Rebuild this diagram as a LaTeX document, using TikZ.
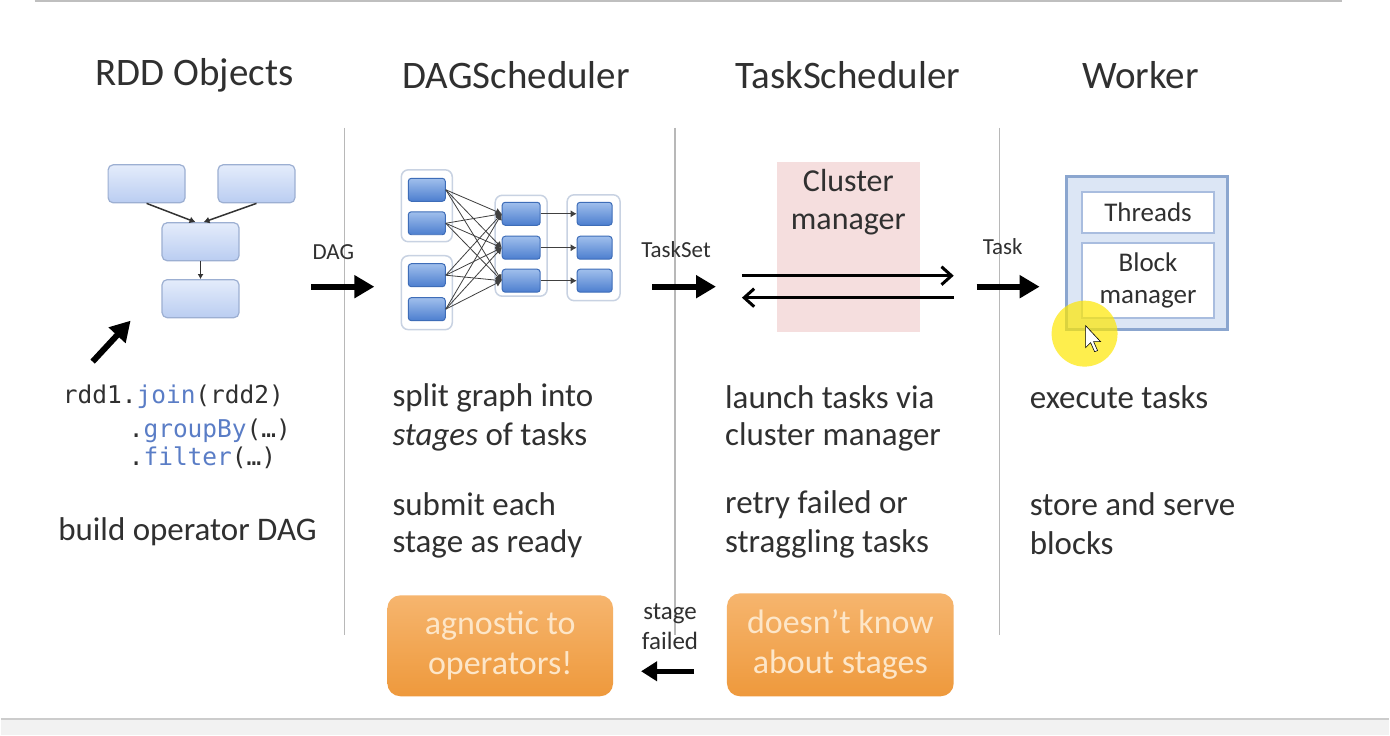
\documentclass[tikz,border=0pt]{standalone}
\usepackage{fontspec}
\setmainfont{Carlito}
\newfontfamily\codefont{DejaVu Sans Mono}
\usepackage{xcolor}
\usetikzlibrary{positioning,arrows.meta}

\definecolor{txt}{HTML}{303030}
\definecolor{sepgray}{HTML}{B8B8B8}
\definecolor{rddtop}{HTML}{E4ECFB}
\definecolor{rddbot}{HTML}{BACDF1}
\definecolor{rddline}{HTML}{9CAFD2}
\definecolor{tasktop}{HTML}{A0BFEC}
\definecolor{taskbot}{HTML}{4C7ECF}
\definecolor{taskline}{HTML}{3E6DB8}
\definecolor{stageline}{HTML}{C8D2E2}
\definecolor{cmpink}{HTML}{F5DEDE}
\definecolor{wkline}{HTML}{8BA6CF}
\definecolor{wkfill}{HTML}{DCE6F5}
\definecolor{wkinner}{HTML}{A9BDDF}
\definecolor{orgtop}{HTML}{F6B56E}
\definecolor{orgbot}{HTML}{EE993C}
\definecolor{orgtext}{HTML}{FDE6C8}
\definecolor{codeblue}{HTML}{5A7DC6}

\begin{document}
\begin{tikzpicture}[x=1pt,y=-1pt,
    head/.style={font=\fontsize{39}{44}\selectfont, text=txt},
    body/.style={font=\fontsize{33}{40}\selectfont, text=txt, anchor=west, inner sep=0pt},
    small/.style={font=\fontsize{23}{28}\selectfont, text=txt, inner sep=0pt},
    code/.style={font=\codefont\fontsize{24.5}{30}\selectfont, text=txt, anchor=west, inner sep=0pt},
    rddbox/.style={draw=rddline, line width=1.2pt, rounded corners=5pt,
                   top color=rddtop, bottom color=rddbot,
                   minimum width=77pt, minimum height=38pt},
    stagebox/.style={draw=stageline, line width=1.5pt, rounded corners=7pt, fill=white},
    taskbox/.style={draw=taskline, line width=1pt, rounded corners=3pt,
                    top color=tasktop, bottom color=taskbot,
                    minimum width=37pt, minimum height=23pt},
    fan/.style={draw=black!75, line width=0.8pt, -{Latex[length=6pt,width=7pt]}},
    bigarrow/.style={line width=6pt, -{Triangle[length=20pt,width=22pt]}},
    thinarrow/.style={line width=3pt, -{Straight Barb[length=10pt,width=18pt]}},
    sep/.style={draw=sepgray, line width=1.5pt},
    note/.style={rounded corners=13pt, top color=orgtop, bottom color=orgbot,
                 text=orgtext, align=center, font=\fontsize{34}{40}\selectfont},
    inner/.style={draw=wkinner, line width=2pt, fill=white, minimum width=133pt,
                  font=\fontsize{27}{32}\selectfont, text=txt, align=center}]

% page frame
\fill[white] (0,0) rectangle (1390,736);
\fill[black!5] (0,720) rectangle (1390,736);
\draw[black!20, line width=1.5pt] (0,720) -- (1390,720);
\draw[black!25, line width=2pt] (34,1) -- (1343,1);
\useasboundingbox (0,0) rectangle (1390,736);

% column headers
\node[head] (hrdd)  at (194,75)  {RDD Objects};
\node[head] (hdag)  at (516,75)  {DAGScheduler};
\node[head] (htask) at (848,75)  {TaskScheduler};
\node[head] (hwork) at (1141,75) {Worker};

% separators
\draw[sep] (344,128) -- (344,636);
\draw[sep] (675,128) -- (675,636);
\draw[sep] (1000,128) -- (1000,636);

% RDD objects
\node[rddbox] (r1) at (146,184) {};
\node[rddbox] (r2) at (256,184) {};
\node[rddbox] (r3) at (200,242) {};
\node[rddbox] (r4) at (200,299) {};
\draw[black!80, line width=1.5pt, -{Latex[length=6pt,width=7pt]}] (r1.south) -- ([xshift=-5pt]r3.north);
\draw[black!80, line width=1.5pt, -{Latex[length=6pt,width=7pt]}] (r2.south) -- ([xshift=3pt]r3.north);
\draw[black!80, line width=1.2pt, -{Latex[length=5pt,width=6pt]}] (r3.south) -- (r4.north);
\coordinate (p0) at (92,362);
\coordinate (p1) at (130,321);
\draw[bigarrow] (p0) -- (p1);

\node[code] (c1) at (62,397) {rdd1.\textcolor{codeblue}{join}(rdd2)};
\node[code] (c2) at (128,431) {.\textcolor{codeblue}{groupBy}(…)};
\node[code] (c3) at (128,458) {.\textcolor{codeblue}{filter}(…)};
\node[body, anchor=center] (build) at (187,532) {build operator DAG};

% DAG arrow
\node[small] (ldag) at (333,252) {DAG};
\coordinate (d0) at (311,287);
\coordinate (d1) at (374,287);
\draw[bigarrow] (d0) -- (d1);

% DAGScheduler stages
\node[stagebox, minimum width=51pt, minimum height=72pt] (ga) at (426.5,206) {};
\node[stagebox, minimum width=51pt, minimum height=74pt] (gb) at (426.5,293) {};
\node[stagebox, minimum width=52pt, minimum height=101pt] (gm) at (521,246) {};
\node[stagebox, minimum width=53pt, minimum height=106pt] (gn) at (593.5,248) {};
\node[taskbox] (a1) at (426.5,190) {};
\node[taskbox] (a2) at (426.5,223.5) {};
\node[taskbox] (b1) at (426.5,275.5) {};
\node[taskbox] (b2) at (426.5,309.5) {};
\foreach \i/\y in {1/214,2/248,3/281} {
  \node[taskbox, minimum width=38pt] (m\i) at (521,\y) {};
  \node[taskbox, minimum width=35pt] (n\i) at (594.5,\y) {};
}
\foreach \s in {a1,a2,b1,b2}
  \foreach \t in {m1,m2,m3}
    \draw[fan] (\s.east) -- (\t.west);
\foreach \i in {1,2,3}
  \draw[fan] (m\i.east) -- (n\i.west);

% TaskSet arrow
\node[small] (lset) at (676,250) {TaskSet};
\coordinate (t0) at (652,287);
\coordinate (t1) at (716,287);
\draw[bigarrow] (t0) -- (t1);

% cluster manager
\node[fill=cmpink, minimum width=143pt, minimum height=170pt] (cm) at (848.5,247) {};
\node[font=\fontsize{32}{38}\selectfont, text=txt, align=center, anchor=north] (cmt) at (848.5,166)
  {Cluster\\manager};
\coordinate (k0) at (742,276);
\coordinate (k1) at (954,276);
\coordinate (k2) at (954,298);
\coordinate (k3) at (742,298);
\draw[thinarrow] (k0) -- (k1);
\draw[thinarrow] (k2) -- (k3);

% Task arrow
\node[small] (ltask) at (1003,247) {Task};
\coordinate (w0) at (977,287);
\coordinate (w1) at (1040,287);
\draw[bigarrow] (w0) -- (w1);

% worker
\node[draw=wkline, line width=3pt, fill=wkfill, minimum width=161pt, minimum height=153pt] (wk) at (1147.5,253.5) {};
\node[inner, minimum height=41pt] (thr) at (1148.5,212.5) {Threads};
\node[inner, minimum height=75pt] (blk) at (1148.5,280.5) {Block\\manager};

% pointer highlight
\fill[yellow!90!orange, opacity=0.7] (1085,334) circle (33);
\draw[black, line width=0.6pt, fill=white] (1086,326) -- ++(0,22) -- ++(5,-5) -- ++(4,9) -- ++(3,-1) -- ++(-4,-9) -- ++(7,0) -- cycle;

% descriptions
\node[body] (s1) at (392,398) {split graph into};
\node[body] (s2) at (392,437) {\textit{stages} of tasks};
\node[body] (s3) at (392,505) {submit each};
\node[body] (s4) at (392,544) {stage as ready};
\node[body] (l1) at (725,398) {launch tasks via};
\node[body] (l2) at (725,437) {cluster manager};
\node[body] (l3) at (725,505) {retry failed or};
\node[body] (l4) at (725,544) {straggling tasks};
\node[body] (e1) at (1030,398) {execute tasks};
\node[body] (e2) at (1030,505) {store and serve};
\node[body] (e3) at (1030,544) {blocks};

% notes
\node[note, minimum width=226pt, minimum height=101pt] (ag) at (500,646.5) {agnostic to\\operators!};
\node[note, minimum width=227pt, minimum height=103pt] (dk) at (840.5,645.5) {doesn't know\\about stages};
\node[small, font=\fontsize{25}{30}\selectfont, align=center] (sf) at (670,627) {stage\\failed};
\coordinate (f0) at (694,672);
\coordinate (f1) at (641,672);
\draw[line width=5pt, -{Triangle[length=16pt,width=19pt]}] (f0) -- (f1);
\end{tikzpicture}
\end{document}
